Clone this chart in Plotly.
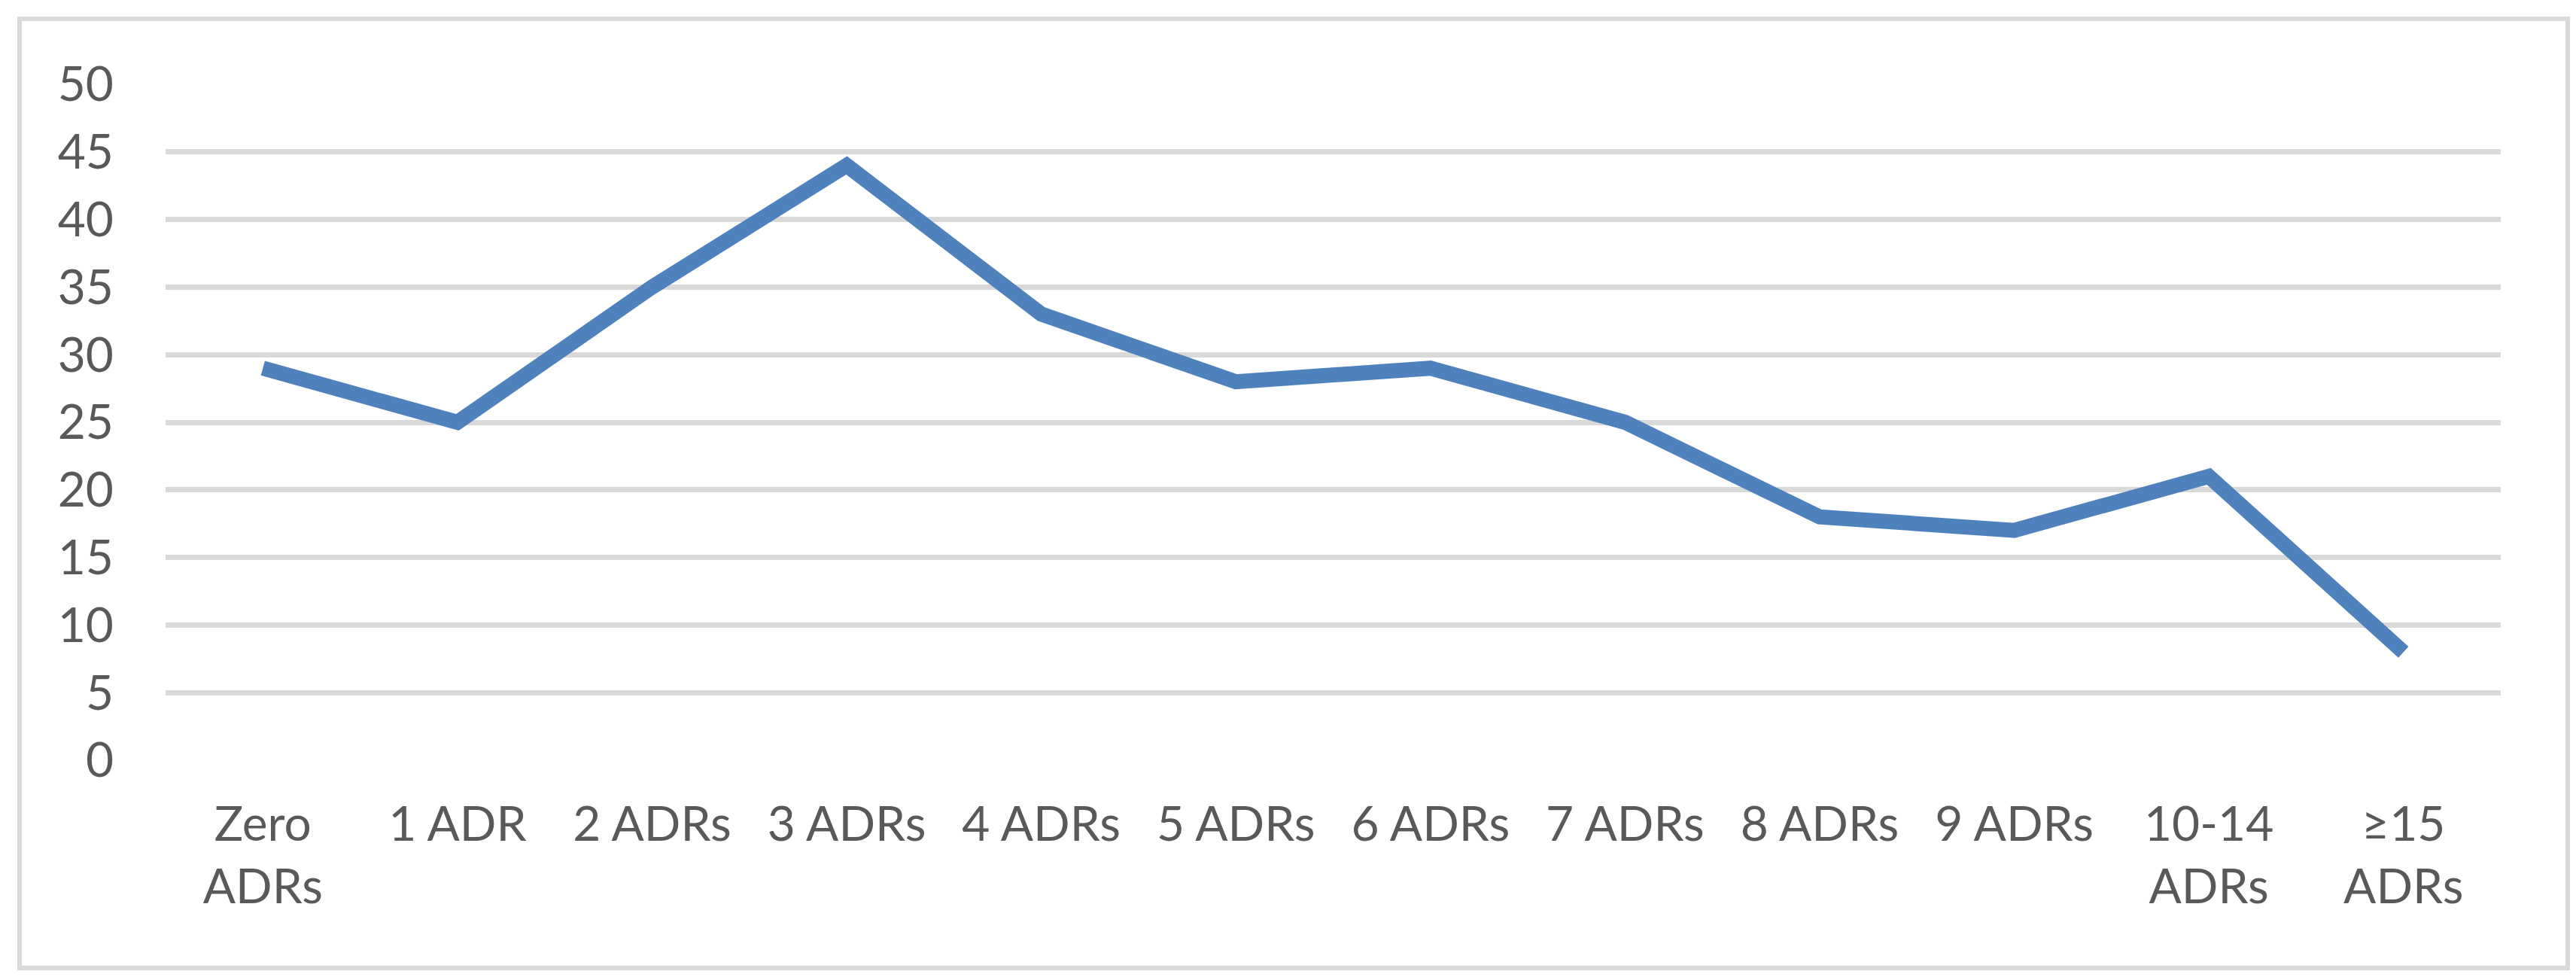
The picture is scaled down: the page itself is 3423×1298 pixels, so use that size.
import plotly.graph_objects as go

categories = ["Zero<br>ADRs", "1 ADR", "2 ADRs", "3 ADRs", "4 ADRs", "5 ADRs",
              "6 ADRs", "7 ADRs", "8 ADRs", "9 ADRs", "10-14<br>ADRs", "≥15<br>ADRs"]
values = [29, 25, 35, 44, 33, 28, 29, 25, 18, 17, 21, 8]
y_ticks = [0, 5, 10, 15, 20, 25, 30, 35, 40, 45, 50]

W, H = 3423, 1298
L, R, T, B = 212, 108, 104, 296
FONT = dict(family="Lato, 'Liberation Sans', sans-serif", size=64, color="#595959")

fig = go.Figure()
fig.add_trace(go.Scatter(
    x=list(range(len(categories))), y=values, mode="lines",
    line=dict(color="#4F81BD", width=20, shape="linear"),
    hoverinfo="skip", showlegend=False,
))

fig.update_layout(
    width=W, height=H,
    margin=dict(l=L, r=R, t=T, b=B),
    paper_bgcolor="white", plot_bgcolor="white",
    font=FONT,
    xaxis=dict(
        range=[-0.5, len(categories) - 0.5],
        tickmode="array", tickvals=list(range(len(categories))), ticktext=categories,
        showgrid=False, zeroline=False, showline=False, ticks="",
        ticklabelstandoff=42, tickfont=FONT,
    ),
    yaxis=dict(
        range=[0, 50], tickmode="array", tickvals=y_ticks,
        showgrid=True, gridcolor="#D9D9D9", gridwidth=7,
        zeroline=False, showline=False, ticks="",
        ticklabelstandoff=68, tickfont=FONT,
    ),
    shapes=[dict(
        type="rect", xref="paper", yref="paper",
        x0=(18 - L) / (W - L - R), x1=(3404 - L) / (W - L - R),
        y0=-(1278 - (H - B)) / (H - T - B), y1=1 + (T - 17) / (H - T - B),
        line=dict(color="#D9D9D9", width=6), fillcolor="rgba(0,0,0,0)", layer="below",
    )],
)

fig.write_html("out.html")
